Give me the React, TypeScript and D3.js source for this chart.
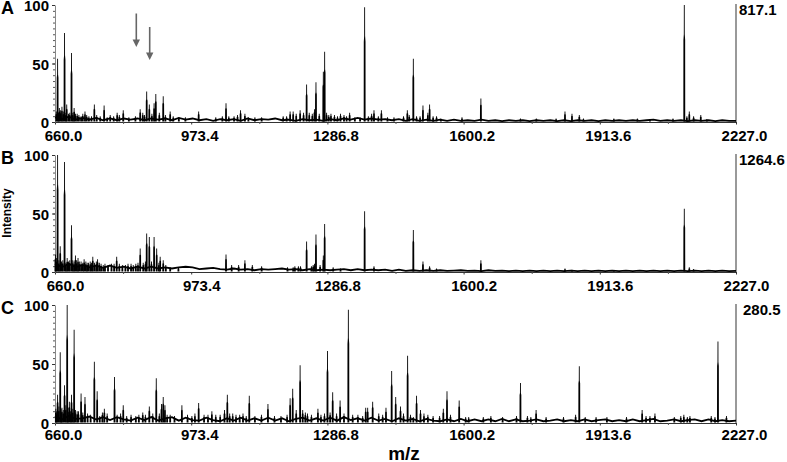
import * as React from 'react';
import * as d3 from 'd3';

const mzTicks = [660.0, 973.4, 1286.8, 1600.2, 1913.6, 2227.0];
const mzMinorTicks = [816.7, 1130.1, 1443.5, 1756.9, 2070.3];
const intensityLabels = [0, 50, 100];
const intensityMinorTicks = d3.range(0, 105, 5);

// [m/z, relative intensity]
const peaksA: [number, number][] = [
  [666, 54], [670, 12], [676, 13], [682, 76], [687, 15], [698, 59], [704, 12], [711, 7], [729, 9],
  [750.5, 15], [773, 14], [787, 6], [803, 8], [817, 10], [856, 11], [862, 8], [871, 26], [877, 15],
  [888, 16], [892, 24], [909, 22], [925, 9], [990.6, 9], [1053.5, 16], [1087, 10], [1097, 7],
  [1135.5, 4], [1193, 5], [1201, 9], [1208, 9], [1224, 10], [1239, 32], [1257, 11], [1260.5, 34],
  [1277.4, 43], [1280.5, 60], [1295, 7], [1317, 7], [1338, 8], [1372.5, 98], [1388.6, 7], [1394, 10],
  [1411, 10], [1425, 4], [1470.7, 10], [1484.5, 54], [1506.7, 14], [1518, 8], [1522, 15], [1538, 5],
  [1596.5, 4], [1640, 20], [1731, 3], [1767.5, 3], [1813, 3], [1833.5, 9], [1849.6, 7], [1866.4, 6],
  [1876, 3], [1946, 3], [2029, 2], [2108, 100], [2119.5, 9], [2129.5, 5], [2146, 6],
];
const peaksB: [number, number][] = [
  [661, 15], [666, 100], [672, 22], [682, 94], [688, 12], [698, 40], [707, 14], [713, 12], [727, 11],
  [734, 8], [747, 13], [758, 11], [771, 6], [802, 13], [840, 6], [856, 20], [863, 8], [871, 33],
  [877, 30], [888, 30], [894, 20], [902, 13], [909, 10], [925, 4], [944, 4], [1053.5, 15], [1066.5, 6],
  [1082.6, 6], [1097, 10], [1114, 6], [1135.5, 5], [1208, 4], [1220, 5], [1239, 26], [1257, 7],
  [1260.5, 32], [1277.4, 14], [1280.5, 41], [1300, 4], [1317, 3], [1372.5, 52], [1394, 5], [1484.5, 36],
  [1506.7, 9], [1522, 5], [1538, 3], [1640, 10], [1833.5, 3], [1849.6, 2], [1946, 1.5], [2108, 54],
  [2119.5, 4], [2129.5, 2.5],
];
const peaksC: [number, number][] = [
  [666, 24], [672, 60], [676, 13], [682, 32], [688, 100], [693, 18], [698, 24], [704, 79], [711, 10],
  [720, 25], [729, 22], [750.5, 52], [757, 27], [769, 9], [773.5, 12], [797, 39], [817, 15], [846, 6],
  [862, 9], [877, 14], [893, 38], [905, 16], [909, 22], [913, 15], [925, 7], [952, 15], [982, 8],
  [990.6, 17], [1021, 10], [1050, 11], [1056.5, 24], [1069, 8], [1076.5, 7], [1092.6, 8], [1107, 23],
  [1150, 16], [1201, 21], [1207, 29], [1224, 49], [1230, 11], [1241, 8], [1265, 12], [1287, 61],
  [1299, 26], [1316, 19], [1335, 96], [1375, 13], [1379.5, 13], [1391, 18], [1421.6, 13], [1434.7, 44],
  [1444, 22], [1455, 14], [1471.4, 57], [1484.5, 5], [1492, 23], [1501, 11], [1509, 8], [1553.5, 12],
  [1562, 27], [1590, 19], [1605, 5], [1645.5, 5], [1731, 34], [1747, 6], [1767, 11], [1866.4, 48],
  [2011, 11], [2029, 6], [2040.5, 8], [2107, 7], [2121, 6], [2178.6, 5], [2185.5, 69], [2205, 6],
];

// low clutter of small peaks around the base of the spectrum
const grassA: [number, number][] = [
  [663, 9], [668, 8], [673, 10], [679, 9], [685, 8], [691, 7], [694, 8], [701, 8], [707, 7], [715, 6],
  [720, 5], [724, 7], [733, 6], [738, 5], [744, 5], [756, 6], [764, 5], [780, 4], [795, 5], [808, 6],
  [830, 4], [845, 5], [866, 6], [883, 7], [900, 8], [914, 6], [932, 5], [945, 4], [960, 4], [1030, 4],
  [1045, 5], [1060, 5], [1072, 5], [1080, 6], [1105, 4], [1120, 4], [1185, 5], [1215, 7], [1232, 8],
  [1245, 8], [1252, 7], [1268, 7], [1285, 8], [1290, 6], [1303, 6], [1310, 5], [1325, 6], [1331, 5],
  [1350, 4], [1362, 4], [1381, 5], [1404, 5], [1440, 4], [1462, 5], [1475, 6], [1492, 5], [1500, 5],
  [1530, 5], [1548, 3], [2000, 3], [2082, 3], [2114, 5], [2160, 2.5],
];
const grassB: [number, number][] = [
  [663, 12], [669, 10], [675, 9], [678, 10], [685, 8], [691, 9], [694, 10], [701, 10], [704, 9], [710, 10],
  [716, 9], [720, 9], [724, 8], [731, 9], [737, 8], [741, 9], [744, 8], [751, 8], [755, 9], [762, 8],
  [766, 7], [775, 7], [782, 6], [790, 7], [796, 7], [808, 7], [815, 6], [822, 6], [828, 7], [835, 7],
  [846, 7], [851, 8], [868, 9], [882, 9], [899, 8], [915, 6], [1195, 4], [1212, 5], [1225, 5], [1250, 5],
  [1254, 6], [1270, 6],
];
const grassC: [number, number][] = [
  [662, 12], [664, 10], [669, 14], [674, 12], [679, 11], [685, 15], [690, 13], [696, 10], [701, 12], [707, 11],
  [714, 10], [724, 9], [735, 8], [742, 7], [763, 6], [780, 8], [803, 7], [811, 8], [825, 6], [835, 7],
  [853, 7], [868, 7], [885, 8], [900, 8], [918, 7], [935, 6], [965, 7], [975, 6], [1003, 7], [1012, 7],
  [1030, 7], [1040, 7], [1062, 8], [1085, 7], [1100, 6], [1120, 6], [1135, 7], [1165, 6], [1180, 6], [1194, 7],
  [1215, 11], [1236, 9], [1250, 7], [1272, 7], [1280, 8], [1293, 9], [1308, 8], [1325, 8], [1345, 7], [1357, 7],
  [1368, 6], [1405, 8], [1414, 7], [1462, 8], [1478, 7], [1518, 7], [1530, 6], [1545, 6], [1570, 7], [1612, 5],
  [1663, 6], [1690, 5], [1722, 6], [1755, 5], [1790, 5], [1830, 5], [1858, 7], [1880, 5], [1905, 5], [1930, 5],
  [1975, 5], [2020, 6], [2085, 5], [2100, 6], [2115, 5], [2170, 6],
];

// noise floor, evenly spaced across the m/z range
const floorA = [
  4, 2.5, 4.5, 2, 3.5, 2, 3.5, 1.5, 3, 1.5, 3, 2, 3, 1.5, 3, 2, 3, 1.5, 3.5, 2, 3, 1.5, 2.5, 1, 2.5, 1.5, 2.5, 1,
  3, 1.5, 2.5, 2, 3, 1.5, 2, 1, 2.5, 1.5, 2, 1, 2.5, 1.5, 3, 2, 3.5, 2, 3, 2, 2.5, 1.5, 2.5, 1, 2.5, 1, 2, 1,
  2, 1, 2, 1, 1.5, 1, 2, 1, 1.5, 0.8, 1.5, 1, 1.5, 0.8, 1.5, 1, 1.5, 0.8, 1.5, 0.8, 1.5, 1, 1.5, 0.8, 1.5, 1, 1.5, 1,
  1.5, 1, 1.5, 2, 1, 1.5, 1, 1.5, 0.8, 1.5, 1, 1.5, 0.8, 1.5, 1, 1,
];
const floorB = [
  7, 4, 7, 4, 6, 4, 5.5, 3.5, 5.5, 3.5, 4.5, 3, 4.5, 3, 4.5, 3, 4, 3, 4, 4.5, 4, 2.5, 3, 3.5, 2.5, 2, 3, 2,
  2.5, 1.5, 2.5, 2, 2.5, 3, 2, 2.5, 1.5, 2.5, 1.5, 2, 1.5, 2, 2.5, 1.5, 2.5, 1.5, 2, 1.5, 2, 1, 2, 1, 1.5, 1, 1.5, 1,
  1.5, 1, 1.2, 1.5, 1, 1.2, 0.8, 1.5, 1, 1.2, 0.8, 1.2, 0.8, 1.2, 0.8, 1.2, 0.8, 1.2, 0.8, 1.2, 0.8, 1.2, 0.8, 1.2, 0.8, 1.2, 0.8, 1.2,
  0.8, 1.2, 0.8, 1.2, 0.8, 1.2, 0.8, 1.2, 0.8, 1.2, 0.8, 1.2, 0.8, 1.2, 0.8, 1,
];
const floorC = [
  6, 3, 6, 3.5, 4, 5.5, 3, 5, 2.5, 5, 3, 2, 4.5, 2.5, 5, 2, 4, 5, 2, 4.5, 2.5, 2, 4.5, 2.5, 1.5, 4, 2, 4.5, 2,
  4, 2, 4.5, 2, 4, 1.5, 3.5, 4.5, 2, 4, 2, 4.5, 2, 5, 2.5, 4, 2, 4.5, 2, 3.5, 1.5, 4, 2, 3.5, 1.5, 3.5, 2, 1.5,
  3, 1.5, 3.5, 1.5, 3, 1.5, 3, 1.5, 3.5, 1.5, 3, 1.5, 2, 3, 1.5, 2, 3, 1.5, 2.5, 1.5, 3, 1.5, 2.5, 3, 1.5, 2.5, 1.5, 3, 1.5,
  2.5, 3.5, 1.5, 2, 3, 1.5, 2.5, 3, 1.5, 3, 1.5, 2.5, 1.5, 2,
];

const panelNames = ['A', 'B', 'C'];
const maxCounts = ['817.1', '1264.6', '280.5'];
const xRange: [number, number] = [55, 736];
const panelTops = [5, 155, 305];
const panelBottoms = [122, 272, 423];
const FONT = '"Liberation Sans", Arial, sans-serif';

function App() {
  const ref = React.useRef<SVGSVGElement>(null);

  React.useEffect(() => {
    const svg = d3.select(ref.current);
    svg.selectAll('*').remove();
    const x = d3.scaleLinear().domain([660, 2227]).range(xRange);
    const peakSets = [peaksA, peaksB, peaksC];
    const grassSets = [grassA, grassB, grassC];
    const floors = [floorA, floorB, floorC];

    panelNames.forEach((name, i) => {
      const top = panelTops[i];
      const bottom = panelBottoms[i];
      const y = d3.scaleLinear().domain([0, 100]).range([bottom, top]);
      const g = svg.append('g');
      const floorX = d3.scaleLinear().domain([0, floors[i].length - 1]).range([660, 2227]);

      // X axis, major and minor ticks; the tick labels sit right of their ticks in the original
      const xAxis = g.append('g').attr('transform', `translate(0,${bottom})`)
        .call(d3.axisBottom(x).tickValues(mzTicks).tickSize(2.5).tickSizeOuter(0)
          .tickFormat((d) => (d as number).toFixed(1)));
      xAxis.select('.domain').attr('stroke', '#333').attr('stroke-width', 1);
      xAxis.selectAll('.tick line').attr('stroke', '#333');
      xAxis.selectAll('.tick text')
        .attr('dx', i === 1 ? 10 : 8)
        .attr('y', 0)
        .attr('dy', 0)
        .attr('transform', `translate(0,${i === 2 ? 17 : 18.5})`)
        .attr('text-anchor', 'middle')
        .attr('fill', '#000')
        .style('font', `bold 15px ${FONT}`);
      g.append('g').attr('transform', `translate(0,${bottom})`)
        .call(d3.axisBottom(x).tickValues(mzMinorTicks).tickSize(2).tickSizeOuter(0).tickFormat(() => ''))
        .call((s) => s.select('.domain').remove())
        .call((s) => s.selectAll('.tick line').attr('stroke', '#555'));

      // Y axis, dotted minor ticks
      g.append('g').attr('transform', `translate(${xRange[0]},0)`)
        .call(d3.axisLeft(y).tickValues(intensityMinorTicks).tickSize(2).tickSizeOuter(0).tickFormat(() => ''))
        .call((s) => s.select('.domain').attr('stroke', '#888'))
        .call((s) => s.selectAll('.tick line').attr('stroke', '#555'));
      g.append('g').attr('transform', `translate(${xRange[0]},0)`)
        .call(d3.axisLeft(y).tickValues(intensityLabels).tickSize(3).tickSizeOuter(0).tickFormat((d) => `${d}`))
        .call((s) => s.select('.domain').remove())
        .call((s) => s.selectAll('.tick line').attr('stroke', '#333'))
        .call((s) => s.selectAll('.tick text')
          .attr('x', -6)
          .attr('dy', 5.5)
          .attr('text-anchor', 'end')
          .attr('fill', '#000')
          .style('font', `bold 15px ${FONT}`));

      // right edge bar and the max count
      g.append('line')
        .attr('x1', xRange[1]).attr('x2', xRange[1])
        .attr('y1', top - 1).attr('y2', bottom)
        .attr('stroke', '#777').attr('stroke-width', 1.5);
      g.append('text')
        .attr('x', i === 2 ? 743 : 739)
        .attr('y', top + 10)
        .style('font', `bold 15px ${FONT}`)
        .text(maxCounts[i]);

      // Panel letter
      g.append('text')
        .attr('x', 1)
        .attr('y', top + 9)
        .style('font', `bold 18px ${FONT}`)
        .text(name);

      // Peaks: solid in the lower part, a thin grey tip on top as in the scan
      const spike = d3.line<[number, number]>().x((d) => x(d[0])).y((d) => y(d[1]));
      const spikePath = (d: [number, number]) => spike([
        [d[0] - 2.2, 0.5], [d[0] - 2, d[1] * 0.7], [d[0] - 1.1, d[1] * 0.75], [d[0] - 1, d[1]],
        [d[0] + 1, d[1]], [d[0] + 1.1, d[1] * 0.75], [d[0] + 2, d[1] * 0.7], [d[0] + 2.2, 0.5],
      ]);
      g.append('g').selectAll('path')
        .data([...grassSets[i], ...peakSets[i]])
        .enter()
        .append('path')
        .attr('d', spikePath)
        .attr('fill', '#000');

      // Noise floor
      g.append('path')
        .attr('d', d3.line<number>().x((_, j) => x(floorX(j))).y((d) => y(d))(floors[i]))
        .attr('fill', 'none')
        .attr('stroke', '#000')
        .attr('stroke-width', 1.8);
    });

    // Arrows in panel A
    const arrows = [[136.3, 13.5, 47], [149.7, 27, 60]];
    arrows.forEach(([ax, y0, y1]) => {
      svg.append('line').attr('x1', ax).attr('x2', ax).attr('y1', y0).attr('y2', y1 - 6)
        .attr('stroke', '#666').attr('stroke-width', 1.6);
      svg.append('path')
        .attr('d', d3.line()([[ax - 3.7, y1 - 7.5], [ax + 3.7, y1 - 7.5], [ax, y1]]))
        .attr('fill', '#666');
    });

    svg.append('text')
      .attr('transform', 'translate(11,213) rotate(-90)')
      .attr('text-anchor', 'middle')
      .style('font', `bold 12px ${FONT}`)
      .text('Intensity');

    svg.append('text')
      .attr('x', 404)
      .attr('y', 460)
      .attr('text-anchor', 'middle')
      .style('font', `bold 19px ${FONT}`)
      .text('m/z');
  }, []);

  return <svg ref={ref} width={787} height={462}
    style={{position: 'absolute', left: 0, top: 0, background: '#fff'}} />;
}

export default App;
